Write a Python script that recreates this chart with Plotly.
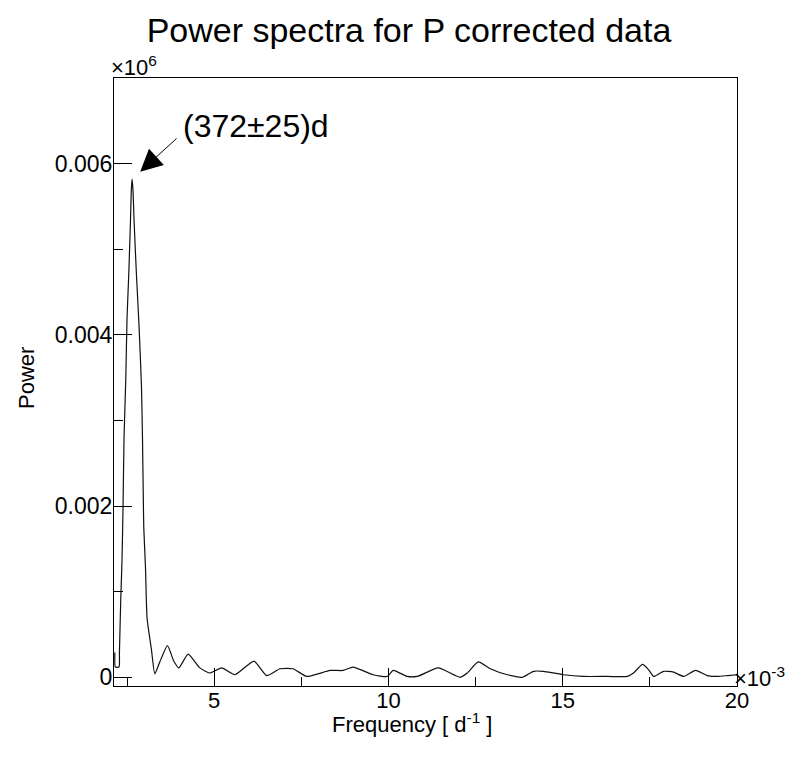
import plotly.graph_objects as go

# Frequency in units of 1e-3 d^-1
freq = [2.15, 2.165, 2.27, 2.282, 2.319, 2.356, 2.385, 2.414, 2.463, 2.500, 2.549, 2.60,
        2.622, 2.644, 2.672, 2.70, 2.770, 2.845, 2.914, 2.943, 2.965, 2.980, 3.029, 3.075,
        3.201, 3.296, 3.44, 3.66, 3.84, 3.986, 4.253, 4.589, 4.876, 5.213, 5.595, 6.141,
        6.506, 6.888, 7.261, 7.655, 8.325, 8.698, 8.986, 9.56, 9.963, 10.135, 10.537,
        10.825, 11.428, 12.06, 12.26, 12.578, 12.922, 13.41, 13.84, 14.16, 14.44, 15.02,
        15.59, 16.28, 16.855, 17.03, 17.29, 17.46, 17.61, 17.89, 18.18, 18.47, 18.81,
        19.15, 19.44, 19.73, 20.0]
power = [0.00029, 0.00012, 0.00012, 0.00029, 0.00090, 0.00137, 0.00199, 0.00280, 0.00347,
         0.00420, 0.00470, 0.00535, 0.00568, 0.00582, 0.00568, 0.00535, 0.00470, 0.00410,
         0.00340, 0.00280, 0.00215, 0.00175, 0.00129, 0.00069, 0.00032, 0.00004, 0.00018,
         0.00037, 0.00019, 0.00011, 0.00027, 0.00011, 0.00005, 0.00011, 0.00003, 0.00019,
         0.00002, 0.00010, 0.00010, 0.00001, 0.00008, 0.00008, 0.00012, 0.00003, 0.00001,
         0.00008, 0.00001, 0.00001, 0.00011, 0.00000, 0.00005, 0.00018, 0.00010, 0.00003,
         0.00000, 0.00007, 0.00007, 0.00003, 0.00001, 0.00001, 0.00001, 0.00005, 0.00015,
         0.00009, 0.00001, 0.00007, 0.00006, 0.00001, 0.00008, 0.00002, 0.00001, 0.00002,
         0.00003]

x_tickvals = [5, 10, 15, 20]
x_ticktext = ["5", "10", "15", "20"]
y_tickvals = [0, 0.002, 0.004, 0.006]
y_ticktext = ["0", "0.002", "0.004", "0.006"]

peak_label = "(372\u00b125)d"
peak_i = power.index(max(power))

FONT = "Liberation Sans, Arial, Helvetica, sans-serif"

fig = go.Figure()
fig.add_trace(go.Scatter(x=freq, y=power, mode="lines",
                         line=dict(color="#111111", width=1.2, shape="spline", smoothing=0.5),
                         showlegend=False))

axis_common = dict(showline=True, linecolor="black", linewidth=1, mirror=True,
                   showgrid=False, zeroline=False, ticks="inside", ticklen=18,
                   tickcolor="black", tickwidth=1)

fig.update_xaxes(range=[2.126, 20], tickvals=x_tickvals, ticktext=x_ticktext,
                 minor=dict(ticks="inside", ticklen=9, dtick=2.5, tick0=0,
                            tickcolor="black", tickwidth=1),
                 tickfont=dict(family=FONT, size=22, color="black"),
                 ticklabelstandoff=-5,
                 **axis_common)
fig.update_yaxes(range=[-0.0001016, 0.0070014], tickvals=y_tickvals, ticktext=y_ticktext,
                 minor=dict(ticks="inside", ticklen=9, dtick=0.001, tick0=0,
                            tickcolor="black", tickwidth=1),
                 tickfont=dict(family=FONT, size=23, color="black"),
                 ticklabelstandoff=-4,
                 **axis_common)

annotations = [
    # arrow pointing to the peak
    dict(x=freq[peak_i], y=power[peak_i], xref="x", yref="y", text="", showarrow=True,
         ax=46, ay=-42, arrowhead=2, arrowsize=4.4, arrowwidth=1, arrowcolor="black",
         standoff=11),
    dict(x=freq[peak_i], y=power[peak_i], xref="x", yref="y", text=peak_label,
         showarrow=False, xanchor="left", yanchor="middle", xshift=49, yshift=53,
         font=dict(family=FONT, size=32, color="black")),
    dict(x=0, y=1, xref="paper", yref="paper", text="\u00d710<sup>6</sup>", showarrow=False,
         xanchor="left", yanchor="bottom", xshift=-5, yshift=-4,
         font=dict(family=FONT, size=22, color="black")),
    dict(x=1, y=0, xref="paper", yref="paper", text="\u00d710<sup>-3</sup>", showarrow=False,
         xanchor="left", yanchor="middle", xshift=-5, yshift=9,
         font=dict(family=FONT, size=22, color="black")),
    # axis titles
    dict(x=0.4787, y=0, xref="paper", yref="paper", text="Frequency [ d<sup>-1</sup> ]",
         showarrow=False, xanchor="center", yanchor="middle", yshift=-37,
         font=dict(family=FONT, size=22, color="black")),
    dict(x=0, y=0.5066, xref="paper", yref="paper", text="Power", textangle=-90,
         showarrow=False, xanchor="center", yanchor="middle", xshift=-87,
         font=dict(family=FONT, size=22, color="black")),
]

fig.update_layout(
    width=795, height=766,
    margin=dict(l=106, r=66, t=70, b=88),
    paper_bgcolor="white", plot_bgcolor="white",
    title=dict(text="Power spectra for P corrected data", x=401 / 795, xref="container",
               xanchor="center", y=1 - 22 / 766, yref="container", yanchor="middle",
               font=dict(family=FONT, size=34, color="black")),
    annotations=annotations,
    font=dict(family=FONT, color="black"),
)

fig.write_html("out.html")
